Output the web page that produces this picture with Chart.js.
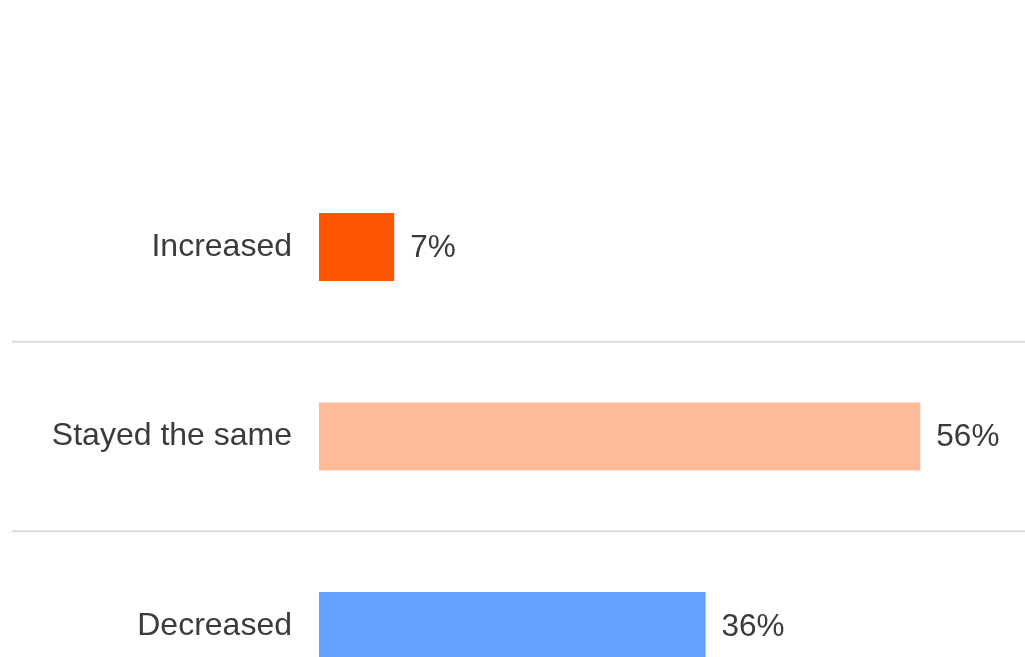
<!DOCTYPE html>
<html>
<head>
<meta charset="utf-8">
<script src="https://cdn.jsdelivr.net/npm/chart.js@4/dist/chart.umd.min.js"></script>
<style>
  html, body { margin: 0; padding: 0; background: #fff; overflow: hidden; }
  #chart { display: block; }
</style>
</head>
<body>
<canvas id="chart" width="1025" height="767"></canvas>
<script>
// answers and their share of responses (%)
const categories = ['Increased', 'Stayed the same', 'Decreased'];
const shares = [7, 56, 36];
const barColors = ['#ff5500', '#ffba99', '#64a0ff'];

const textColor = '#3b3b3b';
const fontFamily = '"Liberation Sans", Arial, Helvetica, sans-serif';

// thin rules between the rows, running under the labels too
const rowSeparators = {
    id: 'rowSeparators',
    beforeDatasetsDraw(chart) {
        const { ctx } = chart;
        const y = chart.scales.y;
        ctx.save();
        ctx.strokeStyle = '#dcdcdc';
        ctx.lineWidth = 2;
        for (let i = 1; i < categories.length; i++) {
            const py = (y.getPixelForValue(i - 1) + y.getPixelForValue(i)) / 2;
            ctx.beginPath();
            ctx.moveTo(12, py);
            ctx.lineTo(chart.width, py);
            ctx.stroke();
        }
        ctx.restore();
    }
};

// percentage text just past the end of each bar
const valueLabels = {
    id: 'valueLabels',
    afterDatasetsDraw(chart) {
        const { ctx } = chart;
        const meta = chart.getDatasetMeta(0);
        ctx.save();
        ctx.font = '31.5px ' + fontFamily;
        ctx.fillStyle = textColor;
        ctx.textAlign = 'left';
        ctx.textBaseline = 'middle';
        meta.data.forEach((bar, i) => {
            ctx.fillText(shares[i] + '%', bar.x + 16, bar.y + 1);
        });
        ctx.restore();
    }
};

new Chart(document.getElementById('chart'), {
    type: 'bar',
    data: {
        labels: categories,
        datasets: [{
            data: shares,
            backgroundColor: barColors,
            borderWidth: 0,
            barPercentage: 0.359,
            categoryPercentage: 1
        }]
    },
    options: {
        indexAxis: 'y',
        responsive: false,
        animation: false,
        devicePixelRatio: 1,
        layout: {
            // the y axis already keeps ~46px below its last label
            padding: { top: 152.25, bottom: 0, left: 0, right: 8 }
        },
        plugins: {
            legend: { display: false },
            tooltip: { enabled: false }
        },
        scales: {
            x: {
                display: false,
                min: 0,
                max: 65
            },
            y: {
                grid: { display: false, drawTicks: false },
                border: { display: false },
                ticks: {
                    color: textColor,
                    padding: 27,
                    font: { size: 32, family: fontFamily }
                },
                afterFit(scale) {
                    scale.width = 319;
                }
            }
        }
    },
    plugins: [rowSeparators, valueLabels]
});
</script>
</body>
</html>
